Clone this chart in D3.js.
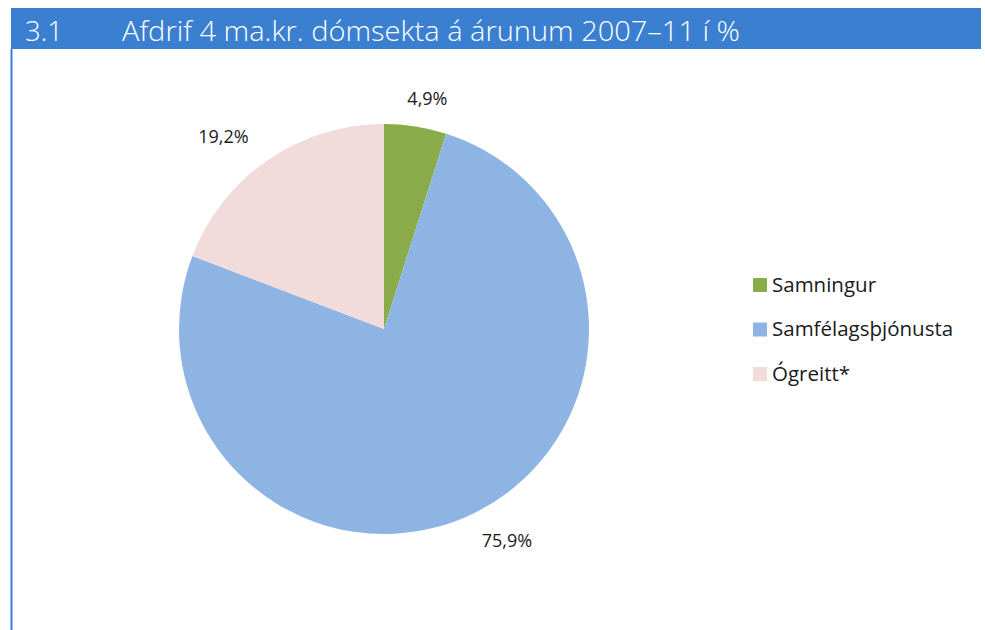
<!DOCTYPE html>
<html>
<head>
<meta charset="utf-8">
<script src="https://cdn.jsdelivr.net/npm/d3@7"></script>
<style>
  body { margin: 0; background: #fff; }
  svg { display: block; font-family: "Open Sans", sans-serif; }
</style>
</head>
<body>
<svg id="chart" width="985" height="630"></svg>
<script>
// chart data
var chartNumber = "3.1";
var chartTitle = "Afdrif 4 ma.kr. dómsekta á árunum 2007–11 í %";
var categories = ["Samningur", "Samfélagsþjónusta", "Ógreitt*"];
var values = [4.9, 75.9, 19.2];
var colors = ["#8aab4a", "#8eb4e3", "#f2dcdb"];

var svg = d3.select("#chart");

var dims = {
  headerTop: 8,
  headerH: 41,
  left: 11,
  right: 981,
};

// header band and left rule
svg.append("rect")
  .attr("x", dims.left)
  .attr("y", dims.headerTop)
  .attr("width", dims.right - dims.left)
  .attr("height", dims.headerH)
  .attr("fill", "#3b7fd1");

svg.append("rect")
  .attr("x", dims.left - 0.5)
  .attr("y", dims.headerTop + dims.headerH)
  .attr("width", 2)
  .attr("height", 630 - dims.headerTop - dims.headerH)
  .attr("fill", "#3b7fd1");

svg.append("text")
  .text(chartNumber)
  .attr("x", 25)
  .attr("y", 41)
  .attr("fill", "#fff")
  .attr("font-size", 28)
  .attr("font-weight", 300)
  .attr("textLength", 38)
  .attr("lengthAdjust", "spacingAndGlyphs");

svg.append("text")
  .text(chartTitle)
  .attr("x", 122)
  .attr("y", 41)
  .attr("fill", "#fff")
  .attr("font-size", 28)
  .attr("font-weight", 300)
  .attr("textLength", 618)
  .attr("lengthAdjust", "spacingAndGlyphs");

// pie
var cx = 384, cy = 329, radius = 205;

var pie = d3.pie().sort(null).value(function (d) { return d; });
var arc = d3.arc().innerRadius(0).outerRadius(radius);

var slices = pie(values);

var g = svg.append("g").attr("transform", "translate(" + cx + "," + cy + ")");

g.selectAll("path.slice")
  .data(slices)
  .enter()
  .append("path")
  .attr("class", "slice")
  .attr("d", arc)
  .attr("fill", function (d, i) { return colors[i]; });

// labels outside the pie, pushed out along the mid angle
var fmt = function (v) { return d3.format(".1f")(v).replace(".", ",") + "%"; };
var labW = 44, labH = 16, gap = 21;

g.selectAll("text.lab")
  .data(slices)
  .enter()
  .append("text")
  .attr("class", "lab")
  .text(function (d) { return fmt(d.data); })
  .attr("text-anchor", "middle")
  .attr("dominant-baseline", "central")
  .attr("font-size", 18)
  .attr("fill", "#1a1a1a")
  .attr("x", function (d) {
    var a = (d.startAngle + d.endAngle) / 2;
    return (radius + gap + labW * 1.3) * Math.sin(a);
  })
  .attr("y", function (d) {
    var a = (d.startAngle + d.endAngle) / 2;
    return -(radius + gap + labH / 2) * Math.cos(a);
  });

// legend
var legend = svg.append("g").attr("transform", "translate(753, 278)");
var rowH = 44.5;

var rows = legend.selectAll("g.row")
  .data(categories)
  .enter()
  .append("g")
  .attr("class", "row")
  .attr("transform", function (d, i) { return "translate(0," + i * rowH + ")"; });

rows.append("rect")
  .attr("width", 14)
  .attr("height", 14)
  .attr("fill", function (d, i) { return colors[i]; });

rows.append("text")
  .text(function (d) { return d; })
  .attr("x", 19)
  .attr("y", 13.5)
  .attr("font-size", 20.5)
  .attr("fill", "#1a1a1a");
</script>
</body>
</html>
